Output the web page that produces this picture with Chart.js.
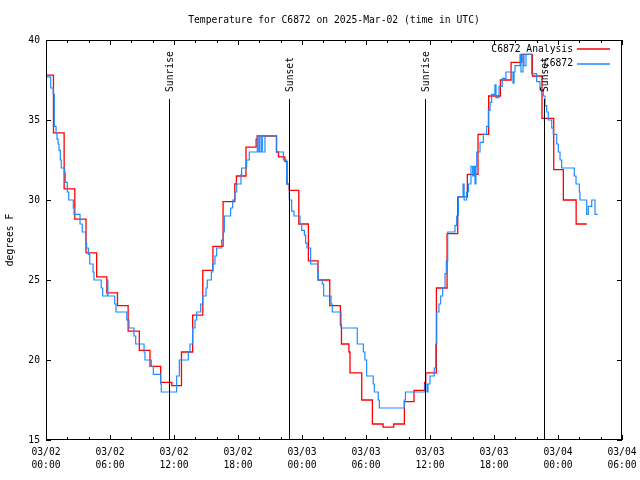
<!DOCTYPE html>
<html>
<head>
<meta charset="utf-8">
<script src="https://cdn.jsdelivr.net/npm/chart.js@4.4.1/dist/chart.umd.min.js"></script>
<style>
  html, body { margin: 0; padding: 0; background: #fff; }
</style>
</head>
<body>
<canvas id="c6872_temp" width="640" height="480"></canvas>
<script>
// 차트 텍스트
const chartTitle = 'Temperature for C6872 on 2025-Mar-02 (time in UTC)';
const yAxisTitle = 'degrees F';
const seriesNames = ['C6872 Analysis', 'C6872'];

// hours since 03/02 00:00 UTC
const analysisHours = [0, 0.7, 1.7, 2.7, 3.75, 4.75, 5.7, 6.7, 7.7, 8.75,
  9.75, 10.75, 11.8, 12.7, 13.75, 14.7, 15.65, 16.6, 17.7, 17.85,
  18.75, 19.7, 19.8, 21.6, 21.8, 22.4, 22.6, 22.8, 23.7, 24.6,
  25.5, 26.6, 27.6, 27.7, 28.4, 28.5, 29.6, 30.6, 31.6, 32.6,
  33.6, 34.5, 35.5, 35.6, 36.6, 37.6, 38.6, 39.5, 40.5, 41.5,
  42.6, 43.6, 44.6, 45.6, 46.5, 47.6, 48.5, 49.7, 50.7];
const analysisTemps = [37.8, 34.2, 30.7, 28.8, 26.7, 25.2, 24.2, 23.4, 21.8, 20.6,
  19.6, 18.6, 18.4, 20.5, 22.8, 25.6, 27.1, 29.9, 31.0, 31.5,
  33.3, 33.8, 34.0, 33.0, 32.7, 32.4, 31.0, 30.6, 28.5, 26.2,
  25.0, 23.4, 22.2, 21.0, 20.5, 19.2, 17.5, 16.0, 15.8, 16.0,
  17.4, 18.1, 18.6, 19.2, 24.5, 27.9, 30.2, 31.6, 34.1, 36.5,
  37.5, 38.6, 39.1, 37.75, 35.1, 31.9, 30.0, 28.5, 28.5];

const obsHours = [0, 0.44, 0.68, 0.78, 0.94, 1.03, 1.13, 1.22, 1.34, 1.43,
  1.75, 1.81, 2.0, 2.13, 2.56, 2.63, 3.19, 3.4, 3.72, 3.81,
  3.97, 4.1, 4.41, 4.5, 5.18, 5.31, 5.75, 5.8, 6.44, 6.56,
  7.57, 7.78, 8.25, 8.41, 9.19, 9.28, 9.87, 10.06, 10.75, 10.81,
  12.25, 12.5, 13.34, 13.5, 13.75, 13.97, 14.13, 14.5, 14.69, 15.0,
  15.12, 15.5, 15.63, 15.84, 16.0, 16.47, 16.62, 16.72, 17.31, 17.5,
  17.72, 17.88, 18.28, 18.34, 18.81, 19.06, 19.81, 19.87, 20.0, 20.06,
  20.22, 20.28, 20.53, 21.63, 22.25, 22.56, 22.81, 23.03, 23.25, 23.81,
  23.97, 24.22, 24.34, 24.47, 24.81, 25.47, 25.53, 25.9, 26.03, 26.72,
  26.84, 27.66, 29.18, 29.75, 29.9, 30.06, 30.68, 30.78, 31.15, 31.25,
  33.59, 33.7, 35.53, 35.72, 35.81, 36.0, 36.4, 36.53, 36.63, 36.84,
  37.0, 37.19, 37.41, 37.53, 37.66, 38.34, 38.5, 38.66, 39.1, 39.2,
  39.44, 39.6, 39.84, 40.0, 40.12, 40.22, 40.31, 40.38, 40.69, 41.0,
  41.31, 41.47, 41.63, 41.78, 42.09, 42.19, 42.47, 42.78, 43.12, 43.78,
  43.88, 43.97, 44.44, 44.53, 44.72, 44.81, 45.0, 45.53, 46.0, 46.31,
  46.62, 46.78, 46.94, 47.09, 47.41, 47.56, 47.88, 48.03, 48.19, 48.34,
  49.53, 49.69, 50.0, 50.06, 50.69, 50.84, 51.16, 51.47, 51.72];
const obsTemps = [37.7, 37.0, 36.6, 34.6, 34.2, 33.8, 33.5, 33.1, 32.5, 32.0,
  31.7, 31.1, 30.5, 30.0, 29.5, 29.1, 28.5, 28.0, 27.3, 27.0,
  26.6, 26.0, 25.5, 25.0, 24.5, 24.0, 25.0, 24.0, 23.5, 23.0,
  22.5, 22.0, 21.5, 21.0, 20.5, 20.0, 19.6, 19.1, 18.5, 18.0,
  19.0, 20.0, 20.5, 21.0, 22.0, 22.5, 23.0, 23.5, 24.0, 24.5,
  25.0, 25.5, 26.0, 26.5, 27.0, 27.5, 28.0, 29.0, 29.5, 30.0,
  30.5, 31.0, 31.6, 32.0, 32.5, 33.0, 34.0, 33.0, 34.0, 33.0,
  34.0, 33.0, 34.0, 33.0, 32.5, 31.0, 30.0, 29.3, 29.0, 28.5,
  28.1, 27.8, 27.3, 27.0, 26.0, 25.5, 25.0, 24.75, 24.0, 23.5,
  23.0, 22.0, 21.0, 20.5, 20.0, 19.0, 18.5, 18.0, 17.5, 17.0,
  17.5, 18.0, 18.5, 18.0, 18.5, 19.0, 19.5, 21.0, 23.0, 23.5,
  24.0, 24.5, 25.4, 26.2, 28.0, 28.4, 29.0, 30.2, 31.0, 30.0,
  30.5, 31.0, 32.1, 31.5, 32.1, 31.0, 32.1, 33.0, 33.6, 34.1,
  34.6, 35.6, 36.1, 36.6, 37.2, 36.4, 37.1, 37.6, 38.0, 37.3,
  38.0, 38.4, 39.1, 38.0, 39.1, 38.4, 39.1, 37.9, 37.4, 36.9,
  36.5, 35.9, 35.5, 35.0, 34.5, 34.1, 33.5, 33.0, 32.5, 32.0,
  31.5, 31.0, 30.5, 30.0, 29.1, 29.6, 30.0, 29.1, 29.1];

// x 눈금 라벨 (6시간 간격)
const xTickDates = ['03/02', '03/02', '03/02', '03/02', '03/03', '03/03', '03/03', '03/03', '03/04', '03/04'];
const xTickTimes = ['00:00', '06:00', '12:00', '18:00', '00:00', '06:00', '12:00', '18:00', '00:00', '06:00'];

// 일출/일몰
const sunEventNames = ['Sunrise', 'Sunset', 'Sunrise', 'Sunset'];
const sunEventHours = [11.53, 22.78, 35.53, 46.69];

const FONT = '9.7px "DejaVu Sans Mono"';
const RED = '#ff0000';
const BLUE = '#1e8cff';

function toPoints(xs, ys) {
  return xs.map((x, i) => ({ x: x, y: ys[i] }));
}

// gnuplot 스타일 테두리, 눈금, 범례, 일출/일몰 선
const gnuplotFrame = {
  id: 'gnuplotFrame',
  afterDraw(chart) {
    const ctx = chart.ctx;
    const a = chart.chartArea;
    const xs = chart.scales.x;
    const ys = chart.scales.y;
    ctx.save();
    ctx.strokeStyle = '#000';
    ctx.fillStyle = '#000';
    ctx.lineWidth = 1;

    // 테두리
    ctx.strokeRect(a.left + 0.5, a.top + 0.5, a.right - a.left - 1, a.bottom - a.top - 1);

    // x 눈금 (2시간 보조, 6시간 주)
    ctx.beginPath();
    for (let h = 0; h <= 54; h += 2) {
      const px = Math.round(xs.getPixelForValue(h)) + 0.5;
      const len = h % 6 === 0 ? 5 : 3;
      ctx.moveTo(px, a.bottom);
      ctx.lineTo(px, a.bottom - len);
      ctx.moveTo(px, a.top);
      ctx.lineTo(px, a.top + len);
    }
    // y 눈금
    for (let v = 15; v <= 40; v += 5) {
      const py = Math.round(ys.getPixelForValue(v)) + 0.5;
      ctx.moveTo(a.left, py);
      ctx.lineTo(a.left + 5, py);
      ctx.moveTo(a.right, py);
      ctx.lineTo(a.right - 5, py);
    }
    ctx.stroke();

    // 일출/일몰
    ctx.font = FONT;
    sunEventHours.forEach((h, i) => {
      const px = Math.round(xs.getPixelForValue(h)) + 0.5;
      ctx.beginPath();
      ctx.moveTo(px, a.top + 59);
      ctx.lineTo(px, a.bottom);
      ctx.stroke();
      ctx.save();
      ctx.translate(px + 1, a.top + 52);
      ctx.rotate(-Math.PI / 2);
      ctx.textAlign = 'left';
      ctx.textBaseline = 'middle';
      ctx.fillText(sunEventNames[i], 0, 0);
      ctx.restore();
    });

    // 범례
    const colors = [RED, BLUE];
    ctx.textAlign = 'right';
    ctx.textBaseline = 'middle';
    seriesNames.forEach((name, i) => {
      const y = a.top + 9 + i * 14.5;
      ctx.fillStyle = '#000';
      ctx.fillText(name, a.right - 49, y);
      ctx.strokeStyle = colors[i];
      ctx.lineWidth = 1.5;
      ctx.beginPath();
      ctx.moveTo(a.right - 45, Math.round(y));
      ctx.lineTo(a.right - 12, Math.round(y));
      ctx.stroke();
    });

    // 제목
    ctx.fillStyle = '#000';
    ctx.textAlign = 'center';
    ctx.fillText(chartTitle, (a.left + a.right) / 2, 20);

    // y 축 제목
    ctx.save();
    ctx.translate(10, (a.top + a.bottom) / 2);
    ctx.rotate(-Math.PI / 2);
    ctx.textAlign = 'center';
    ctx.textBaseline = 'middle';
    ctx.fillText(yAxisTitle, 0, 0);
    ctx.restore();

    ctx.restore();
  }
};

const ctx = document.getElementById('c6872_temp').getContext('2d');
new Chart(ctx, {
  type: 'line',
  data: {
    datasets: [
      {
        label: seriesNames[1],
        data: toPoints(obsHours, obsTemps),
        borderColor: BLUE,
        borderWidth: 1.2,
        pointRadius: 0,
        stepped: 'before',
        fill: false,
        order: 0
      },
      {
        label: seriesNames[0],
        data: toPoints(analysisHours, analysisTemps),
        borderColor: RED,
        borderWidth: 1.3,
        pointRadius: 0,
        stepped: 'before',
        fill: false,
        order: 1
      }
    ]
  },
  options: {
    responsive: false,
    animation: false,
    devicePixelRatio: 1,
    layout: { padding: { top: 40, right: 18, left: 0, bottom: 0 } },
    plugins: {
      legend: { display: false },
      title: { display: false },
      tooltip: { enabled: false }
    },
    scales: {
      x: {
        type: 'linear',
        min: 0,
        max: 54,
        afterFit: s => {
          s.height = 40;
          s.paddingLeft = 0;
          s.paddingRight = 0;
        },
        grid: { display: false, drawTicks: false },
        border: { display: false },
        ticks: {
          stepSize: 6,
          autoSkip: false,
          maxRotation: 0,
          minRotation: 0,
          padding: 6,
          color: '#000',
          font: { family: 'DejaVu Sans Mono', size: 9.7, lineHeight: 1.35 },
          callback: v => {
            const i = Math.round(v / 6);
            return [xTickDates[i], xTickTimes[i]];
          }
        }
      },
      y: {
        min: 15,
        max: 40,
        afterFit: s => {
          s.width = 46;
          s.paddingTop = 0;
          s.paddingBottom = 0;
        },
        grid: { display: false, drawTicks: false },
        border: { display: false },
        ticks: {
          stepSize: 5,
          padding: 6,
          color: '#000',
          font: { family: 'DejaVu Sans Mono', size: 9.7 }
        }
      }
    }
  },
  plugins: [gnuplotFrame]
});
</script>
</body>
</html>
